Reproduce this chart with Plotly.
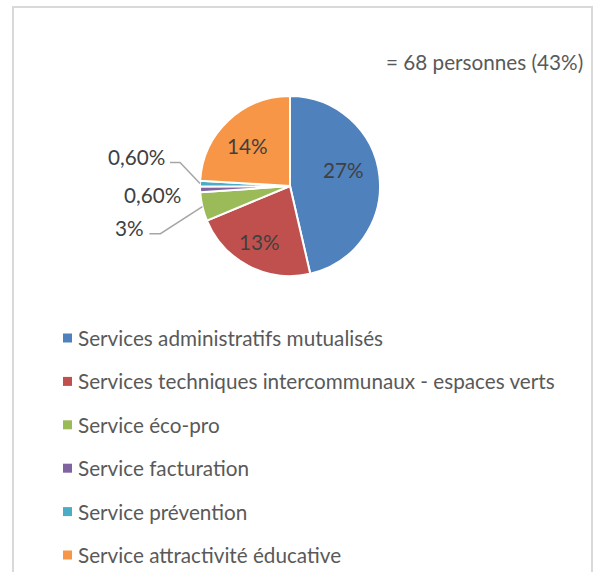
import math
import plotly.graph_objects as go

# ---- data ----
categories = [
    "Services administratifs mutualisés",
    "Services techniques intercommunaux - espaces verts",
    "Service éco-pro",
    "Service facturation",
    "Service prévention",
    "Service attractivité éducative",
]
values = [27, 13, 3, 0.6, 0.6, 14]
pct_labels = ["27%", "13%", "3%", "0,60%", "0,60%", "14%"]
colors = ["#4F81BD", "#C0504D", "#9BBB59", "#8064A2", "#4BACC6", "#F79646"]
title_text = "= 68 personnes (43%)"

# ---- layout constants (pixels) ----
W, H = 598, 572
CX, CY, R = 290, 186, 90
FONT = "Lato, Calibri, Carlito, sans-serif"
FS = 20.7
TXT = "#595959"
LBL = "#404040"


def px(x):
    return x / W


def py(y):
    return 1 - y / H


fig = go.Figure()
fig.add_trace(go.Pie(
    labels=categories,
    values=values,
    textinfo="none",
    sort=False,
    direction="clockwise",
    rotation=0,
    marker=dict(colors=colors, line=dict(color="white", width=2)),
    domain=dict(x=[px(CX - R), px(CX + R)], y=[py(CY + R), py(CY - R)]),
    showlegend=False,
    hoverinfo="label+value",
))

shapes = []
annotations = []

# slice mid-angles (clockwise from 12 o'clock) derived from the values
total = sum(values)
cum = 0.0
mid_angles = []
for v in values:
    mid_angles.append((cum + v / 2) / total * 360)
    cum += v

# inside labels: (angle shift in degrees, radius fraction)
inside_layout = {0: (-10, 0.62), 1: (1, 0.71), 5: (-4, 0.65)}
for i, (dth, rf) in inside_layout.items():
    th = math.radians(mid_angles[i] + dth)
    x = CX + R * rf * math.sin(th)
    y = CY - R * rf * math.cos(th)
    annotations.append(dict(
        x=px(x), y=py(y), xref="paper", yref="paper",
        xanchor="center", yanchor="middle", showarrow=False,
        text=pct_labels[i], font=dict(family=FONT, size=FS, color=LBL),
    ))

# outside labels with leader lines from the slice rim (px offsets)
# (elbow dx, elbow dy, horizontal length, text right-edge dx from line end, text dy, draw line)
outside_layout = {
    2: (-42, 27, 11, -3, -6, True),
    3: (-17, 6, 0, 0, 0, False),
    4: (-20, -21, 10, -3, -6, True),
}
for i, (edx, edy, hl, tdx, tdy, draw) in outside_layout.items():
    th = math.radians(mid_angles[i])
    ax = CX + R * math.sin(th)
    ay = CY - R * math.cos(th)
    ex, ey = ax + edx, ay + edy
    lx = ex - hl
    if draw:
        shapes.append(dict(
            type="path", xref="paper", yref="paper",
            path=f"M {px(ax)} {py(ay)} L {px(ex)} {py(ey)} L {px(lx)} {py(ey)}",
            line=dict(color="#A6A6A6", width=1.5),
        ))
    annotations.append(dict(
        x=px(lx + tdx), y=py(ey + tdy), xref="paper", yref="paper",
        xanchor="right", yanchor="middle", showarrow=False,
        text=pct_labels[i], font=dict(family=FONT, size=FS, color=LBL),
    ))

# title
annotations.append(dict(
    x=px(585), y=py(62), xref="paper", yref="paper",
    xanchor="right", yanchor="middle", showarrow=False,
    text=title_text, font=dict(family=FONT, size=FS, color=TXT),
))

# legend (one row per category)
LEG_Y0, LEG_DY = 338, 43.4
for i, (cat, col) in enumerate(zip(categories, colors)):
    y = LEG_Y0 + i * LEG_DY
    shapes.append(dict(
        type="rect", xref="paper", yref="paper",
        x0=px(63), x1=px(72), y0=py(y + 4.5), y1=py(y - 4.5),
        fillcolor=col, line=dict(width=0),
    ))
    annotations.append(dict(
        x=px(76), y=py(y), xref="paper", yref="paper",
        xanchor="left", yanchor="middle", showarrow=False,
        text=cat, font=dict(family=FONT, size=FS, color=TXT),
    ))

# chart frame
shapes.append(dict(
    type="path", xref="paper", yref="paper",
    path=f"M {px(13)} {py(600)} L {px(13)} {py(7)} L {px(592)} {py(7)} L {px(592)} {py(600)}",
    line=dict(color="#D9D9D9", width=2),
))

fig.update_layout(
    width=W, height=H,
    margin=dict(l=0, r=0, t=0, b=0),
    paper_bgcolor="white",
    plot_bgcolor="white",
    shapes=shapes,
    annotations=annotations,
    showlegend=False,
)

fig.write_html(
    "out.html",
    config={"displayModeBar": False},
    post_script="document.body.style.margin='0px';document.documentElement.style.margin='0px';",
)
